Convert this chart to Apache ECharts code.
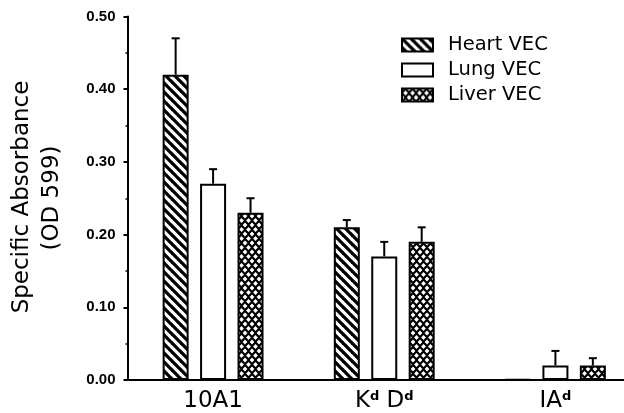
<!DOCTYPE html>
<html>
<head>
<meta charset="utf-8">
<script src="https://cdn.jsdelivr.net/npm/echarts@6/dist/echarts.min.js"></script>
<style>html,body{margin:0;padding:0;background:#fff}#c{width:624px;height:413px}</style>
</head>
<body>
<div id="c"></div>
<script>
// ---- data ----
const categories = ['10A1', 'KdDd', 'IAd'];
const seriesNames = ['Heart VEC', 'Lung VEC', 'Liver VEC'];
const heart = [0.42, 0.21, 0.001];
const lung = [0.27, 0.17, 0.02];
const liver = [0.23, 0.19, 0.02];
const heartErr = [0.47, 0.22, null];
const lungErr = [0.29, 0.19, 0.04];
const liverErr = [0.25, 0.21, 0.03];
const yTicks = [0, 0.1, 0.2, 0.3, 0.4, 0.5];

// ---- patterns ----
function stripePattern() {
  const s = 9, c = document.createElement('canvas');
  c.width = s; c.height = s;
  const g = c.getContext('2d');
  g.fillStyle = '#fff'; g.fillRect(0, 0, s, s);
  g.strokeStyle = '#000'; g.lineWidth = 3.3;
  for (let k = -1; k <= 1; k++) {
    g.beginPath(); g.moveTo(-2, -2 + k * s); g.lineTo(s + 2, s + 2 + k * s); g.stroke();
  }
  return { image: c, repeat: 'repeat' };
}
function diamondPattern() {
  const w = 7, h = 9, c = document.createElement('canvas');
  c.width = w; c.height = h;
  const g = c.getContext('2d');
  g.fillStyle = '#000'; g.fillRect(0, 0, w, h);
  g.fillStyle = '#fff';
  const r = 2.4;
  const pts = [[0, 0], [w, 0], [0, h], [w, h], [w / 2, h / 2]];
  pts.forEach(([x, y]) => {
    g.beginPath(); g.moveTo(x, y - r); g.lineTo(x + r, y); g.lineTo(x, y + r); g.lineTo(x - r, y); g.closePath(); g.fill();
  });
  return { image: c, repeat: 'repeat' };
}
const fills = [stripePattern(), '#ffffff', diamondPattern()];
const values = [heart, lung, liver];
const errs = [heartErr, lungErr, liverErr];

const BW = 26, GAP = 11.44;
const offsets = [-(BW + GAP), 0, BW + GAP];

const chart = echarts.init(document.getElementById('c'), null, { renderer: 'canvas' });
const font = 'DejaVu Sans';

const barSeries = seriesNames.map((n, i) => ({
  name: n, type: 'bar', data: values[i], barWidth: BW, barGap: (GAP / BW * 100) + '%',
  itemStyle: { color: fills[i], borderColor: '#000', borderWidth: 2 },
  emphasis: { disabled: true }, z: 2
}));
const errSeries = seriesNames.map((n, i) => ({
  type: 'custom', name: n + ' err', z: 3, silent: true,
  data: values[i].map((v, j) => [j, v, errs[i][j]]).filter(d => d[2] != null),
  renderItem: function (params, api) {
    const p0 = api.coord([api.value(0), api.value(1)]);
    const p1 = api.coord([api.value(0), api.value(2)]);
    const x = p0[0] + offsets[i];
    return {
      type: 'group', children: [
        { type: 'line', shape: { x1: x, y1: p0[1], x2: x, y2: p1[1] }, style: { stroke: '#000', lineWidth: 2 } },
        { type: 'line', shape: { x1: x - 4, y1: p1[1], x2: x + 4, y2: p1[1] }, style: { stroke: '#000', lineWidth: 2 } }
      ]
    };
  }
}));

chart.setOption({
  animation: false,
  backgroundColor: '#fff',
  grid: { left: 127.5, width: 513.5, top: 16.5, bottom: 33, containLabel: false, outerBoundsMode: 'none' },
  legend: {
    data: seriesNames, orient: 'vertical', left: 401, top: 35, padding: 0,
    itemWidth: 31, itemHeight: 13, itemGap: 5, selectedMode: false,
    icon: 'rect',
    textStyle: { fontFamily: font, fontSize: 19.5, color: '#000', padding: [0, 0, 0, 10] }
  },
  xAxis: {
    type: 'category', data: categories, boundaryGap: true,
    axisLine: { lineStyle: { color: '#000', width: 2 } },
    axisTick: { show: false },
    axisLabel: {
      interval: 0, margin: 10, color: '#000', fontFamily: font, fontSize: 23,
      formatter: function (v) {
        if (v === 'KdDd') return 'K{s|d} D{s|d}';
        if (v === 'IAd') return 'IA{s|d}';
        return v;
      },
      rich: { s: { fontFamily: font, fontSize: 13, fontWeight: 'bold', verticalAlign: 'top', padding: [0, 0, 8, 0], color: '#000' } }
    }
  },
  yAxis: {
    type: 'value', min: 0, max: 0.5, interval: 0.1,
    axisLine: { show: true, lineStyle: { color: '#000', width: 2 } },
    axisTick: { show: true, length: 4, lineStyle: { color: '#000', width: 2 } },
    minorTick: { show: true, splitNumber: 2, length: 2, lineStyle: { color: '#000', width: 1.5 } },
    splitLine: { show: false },
    axisLabel: {
      margin: 12, color: '#000', fontFamily: 'Liberation Sans', fontWeight: 'bold', fontSize: 15,
      formatter: v => v.toFixed(2)
    }
  },
  graphic: [
    { type: 'text', x: 22, y: 197, rotation: Math.PI / 2,
      style: { text: 'Specific Absorbance', font: '23px "DejaVu Sans"', fill: '#000', align: 'center', verticalAlign: 'middle' } },
    { type: 'text', x: 52, y: 198, rotation: Math.PI / 2,
      style: { text: '(OD 599)', font: '23px "DejaVu Sans"', fill: '#000', align: 'center', verticalAlign: 'middle' } }
  ],
  series: barSeries.concat(errSeries)
});
</script>
</body>
</html>
